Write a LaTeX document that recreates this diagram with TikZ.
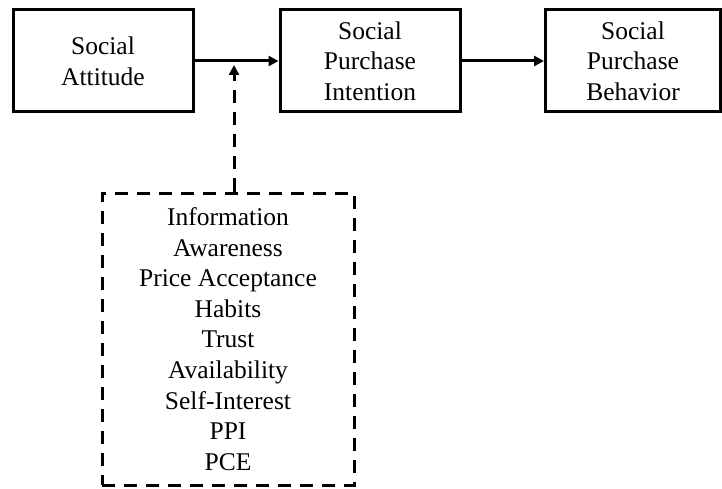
\documentclass[tikz,border=0pt]{standalone}
\usepackage{fontspec}
\setmainfont{Liberation Serif}
\usetikzlibrary{arrows.meta}
\begin{document}
\begin{tikzpicture}[x=1pt,y=-1pt,
  every node/.style={font=\fontsize{25.5}{30.6}\selectfont, align=center, inner sep=0pt},
  solidbox/.style={draw, line width=3pt, minimum height=102pt},
  dbox/.style={draw, line width=3pt, dash pattern=on 13pt off 9pt, minimum width=252pt, minimum height=292pt},
  link/.style={line width=3pt, -{Triangle[length=10pt,width=10pt]}},
  dlink/.style={line width=3pt, dash pattern=on 13pt off 9pt, -{Triangle[length=10pt,width=10pt]}}
]
\useasboundingbox (0,0) rectangle (722,489);
\node[solidbox, minimum width=180pt] (b1) at (103,61) {Social\\Attitude};
\node[solidbox, minimum width=180pt] (b2) at (370,61) {Social\\Purchase\\Intention};
\node[solidbox, minimum width=175pt] (b3) at (633,61) {Social\\Purchase\\Behavior};
\node[dbox] (d) at (228,339) {Information\\Awareness\\Price Acceptance\\Habits\\Trust\\Availability\\Self-Interest\\PPI\\PCE};
\coordinate (m) at (234,65);
\draw[link] (b1.east) -- (b2.west);
\draw[link] (b2.east) -- (b3.west);
\draw[dlink] (m |- d.north) -- (m);
\end{tikzpicture}
\end{document}
